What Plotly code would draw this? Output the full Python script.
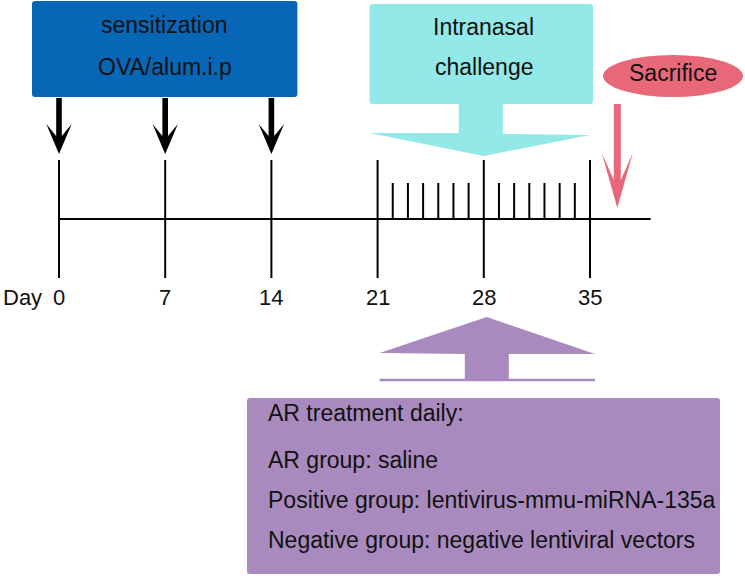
import plotly.graph_objects as go

# ---------------- data ----------------
day_ticks = [0, 7, 14, 21, 28, 35]
day_tick_labels = ["0", "7", "14", "21", "28", "35"]
sensitization_days = [0, 7, 14]
challenge_days = [22, 23, 24, 25, 26, 27, 29, 30, 31, 32, 33, 34]
challenge_start = 21
challenge_mid = 28
challenge_end = 35
sacrifice_day = 36.8
timeline_end = 39

sensitization_text = ["sensitization", "OVA/alum.i.p"]
challenge_text = ["Intranasal", "challenge"]
sacrifice_text = "Sacrifice"
treatment_text = [
    "AR treatment daily:",
    "AR group: saline",
    "Positive group: lentivirus-mmu-miRNA-135a",
    "Negative group: negative lentiviral vectors",
]

# ---------------- layout helpers ----------------
W, H = 745, 576
PX_PER_DAY = 15.171
DAY0_PX = 59.0


def dx(px):
    """pixel offset -> day offset"""
    return px / PX_PER_DAY


def at(px):
    """absolute pixel -> day coordinate (for decorative layout)"""
    return (px - DAY0_PX) / PX_PER_DAY


FONT = "Arial, Liberation Sans, sans-serif"
TXT = "#111111"
BLUE = "#0866B6"
CYAN = "#92E9E7"
PINK = "#E8687A"
PURPLE = "#A98ABF"
FS = 23


def poly(points):
    return "M " + " L ".join(f"{x:.4f},{y:.3f}" for x, y in points) + " Z"


def rrect(x0, x1, y0, y1, r=3):
    rx = dx(r)
    return (f"M {x0+rx},{y0} L {x1-rx},{y0} Q {x1},{y0} {x1},{y0+r} "
            f"L {x1},{y1-r} Q {x1},{y1} {x1-rx},{y1} L {x0+rx},{y1} "
            f"Q {x0},{y1} {x0},{y1-r} L {x0},{y0+r} Q {x0},{y0} {x0+rx},{y0} Z")


fig = go.Figure()
shapes = []
annotations = []

# ---------------- timeline ----------------
LINE_Y = 219
fig.add_trace(go.Scatter(x=[day_ticks[0], timeline_end], y=[LINE_Y, LINE_Y],
                         mode="lines", line=dict(color="black", width=2),
                         hoverinfo="skip", showlegend=False))
xs, ys = [], []
for d in day_ticks:
    xs += [d, d, None]
    ys += [160, 278, None]
fig.add_trace(go.Scatter(x=xs, y=ys, mode="lines", line=dict(color="black", width=2),
                         hoverinfo="skip", showlegend=False))
xs, ys = [], []
for d in challenge_days:
    xs += [d, d, None]
    ys += [183, LINE_Y, None]
fig.add_trace(go.Scatter(x=xs, y=ys, mode="lines", line=dict(color="black", width=2),
                         hoverinfo="skip", showlegend=False))

annotations.append(dict(x=at(1), y=297, text="Day", showarrow=False, xanchor="left",
                        yanchor="middle", font=dict(family=FONT, size=22, color=TXT)))
for d, lab in zip(day_ticks, day_tick_labels):
    annotations.append(dict(x=d, y=297, text=lab, showarrow=False, xanchor="center",
                            yanchor="middle", font=dict(family=FONT, size=22, color=TXT)))

# ---------------- sensitization box + arrows ----------------
bx0, bx1 = sensitization_days[0] - dx(27), sensitization_days[-1] + dx(26)
shapes.append(dict(type="path", xref="x", yref="y", path=rrect(bx0, bx1, 1, 97),
                   fillcolor=BLUE, line=dict(width=0), layer="below"))
cx = (bx0 + bx1) / 2
annotations.append(dict(x=cx, y=25, text=sensitization_text[0], showarrow=False,
                        font=dict(family=FONT, size=FS, color=TXT)))
annotations.append(dict(x=cx, y=67, text=sensitization_text[1], showarrow=False,
                        font=dict(family=FONT, size=FS, color=TXT)))

for d in sensitization_days:
    tip = 154
    pts = [(d, tip), (d - dx(12.7), tip - 30), (d - dx(2.8), tip - 18), (d - dx(2.8), tip - 56),
           (d + dx(2.8), tip - 56), (d + dx(2.8), tip - 18), (d + dx(12.7), tip - 30)]
    shapes.append(dict(type="path", xref="x", yref="y", path=poly(pts),
                       fillcolor="black", line=dict(width=0)))

# ---------------- intranasal challenge box + arrow ----------------
cbx0, cbx1 = challenge_start - dx(8), challenge_end + dx(3)
shapes.append(dict(type="path", xref="x", yref="y", path=rrect(cbx0, cbx1, 4, 104),
                   fillcolor=CYAN, line=dict(width=0), layer="below"))
m = challenge_mid
pts = [(m - dx(25), 103), (m + dx(19), 103), (m + dx(19), 134),
       (challenge_end, 135), (m, 156), (challenge_start - dx(8), 133), (m - dx(25), 133)]
shapes.append(dict(type="path", xref="x", yref="y", path=poly(pts),
                   fillcolor=CYAN, line=dict(width=0), layer="below"))
annotations.append(dict(x=m, y=27, text=challenge_text[0], showarrow=False,
                        font=dict(family=FONT, size=FS, color=TXT)))
annotations.append(dict(x=m, y=67, text=challenge_text[1], showarrow=False,
                        font=dict(family=FONT, size=FS, color=TXT)))

# ---------------- sacrifice ----------------
shapes.append(dict(type="circle", xref="x", yref="y",
                   x0=at(603), x1=at(743), y0=55, y1=97,
                   fillcolor=PINK, line=dict(width=0), layer="below"))
annotations.append(dict(x=at(673), y=73, text=sacrifice_text, showarrow=False,
                        font=dict(family=FONT, size=FS, color=TXT)))
s = sacrifice_day
tip = 208
pts = [(s, tip), (s - dx(15.5), tip - 55), (s - dx(3.5), tip - 28), (s - dx(3.5), 104),
       (s + dx(3.5), 104), (s + dx(3.5), tip - 28), (s + dx(15.5), tip - 55)]
shapes.append(dict(type="path", xref="x", yref="y", path=poly(pts),
                   fillcolor=PINK, line=dict(width=0)))

# ---------------- treatment arrow + box ----------------
pm = challenge_mid + dx(3)
pts = [(pm, 317), (challenge_end + dx(5), 354), (pm + dx(22), 354), (pm + dx(22), 380),
       (pm - dx(22), 380), (pm - dx(22), 354), (challenge_start + dx(2), 353)]
shapes.append(dict(type="path", xref="x", yref="y", path=poly(pts),
                   fillcolor=PURPLE, line=dict(width=0)))
fig.add_trace(go.Scatter(x=[challenge_start + dx(2), challenge_end + dx(5)], y=[380, 380],
                         mode="lines", line=dict(color=PURPLE, width=2.5),
                         hoverinfo="skip", showlegend=False))
shapes.append(dict(type="path", xref="x", yref="y", path=rrect(at(247), at(720), 398, 574),
                   fillcolor=PURPLE, line=dict(width=0), layer="below"))
for t, yy in zip(treatment_text, [413, 460, 500, 540]):
    annotations.append(dict(x=at(266), y=yy, text=t, showarrow=False, xanchor="left",
                            yanchor="middle", font=dict(family=FONT, size=FS, color=TXT)))

fig.update_layout(
    width=W, height=H,
    margin=dict(l=0, r=0, t=0, b=0),
    paper_bgcolor="white", plot_bgcolor="white",
    shapes=shapes, annotations=annotations,
    xaxis=dict(range=[at(0), at(W)], visible=False, fixedrange=True),
    yaxis=dict(range=[H, 0], visible=False, fixedrange=True),
    showlegend=False,
)

fig.write_html("out.html",
               config={"displayModeBar": False},
               post_script="document.body.style.margin='0';document.body.style.overflow='hidden';")
